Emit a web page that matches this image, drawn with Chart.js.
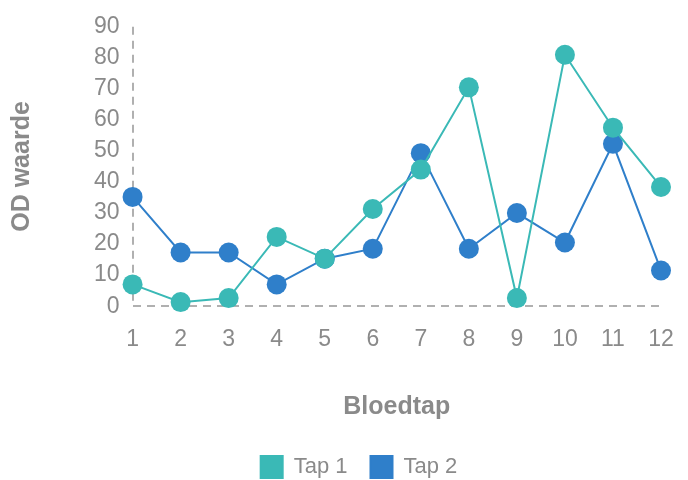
<!DOCTYPE html>
<html>
<head>
<meta charset="utf-8">
<script src="https://cdn.jsdelivr.net/npm/chart.js@4"></script>
<style>
  html, body { margin: 0; padding: 0; background: #fff; }
  #wrap { width: 688px; height: 480px; }
</style>
</head>
<body>
<div id="wrap"><canvas id="chart" width="688" height="480"></canvas></div>
<script>
// data
const labels = ["1", "2", "3", "4", "5", "6", "7", "8", "9", "10", "11", "12"];
const tap1 = [7, 1.3, 2.6, 22.3, 15.3, 31.3, 44, 70.5, 2.6, 81, 57.5, 38.4];
const tap2 = [35.2, 17.3, 17.3, 7, 15.3, 18.5, 49.3, 18.5, 30, 20.5, 52.3, 11.5];

const teal = "#3ab9b6";
const blue = "#2f7fca";
const grey = "#8a8a8a";
const axisGrey = "#b0b0b0";
const fam = "'Liberation Sans', Arial, sans-serif";

// nudge the legend right/down, like the reference
const legendShift = {
  id: "legendShift",
  afterLayout(chart) {
    const lg = chart.legend;
    if (lg) {
      lg.left += 25; lg.right += 25;
      lg.top += 8; lg.bottom += 8;
    }
  }
};

new Chart(document.getElementById("chart"), {
  type: "line",
  data: {
    labels: labels,
    datasets: [
      {
        label: "Tap 1",
        data: tap1,
        borderColor: teal,
        backgroundColor: teal,
        pointBackgroundColor: teal,
        borderWidth: 2,
        pointRadius: 10,
        pointHoverRadius: 10,
        pointBorderWidth: 0,
        tension: 0,
        clip: false
      },
      {
        label: "Tap 2",
        data: tap2,
        borderColor: blue,
        backgroundColor: blue,
        pointBackgroundColor: blue,
        borderWidth: 2,
        pointRadius: 10,
        pointHoverRadius: 10,
        pointBorderWidth: 0,
        tension: 0,
        clip: false
      }
    ]
  },
  options: {
    responsive: false,
    animation: false,
    layout: { padding: { top: 19, right: 27, left: 7, bottom: 0 } },
    plugins: {
      tooltip: { enabled: false },
      legend: {
        position: "bottom",
        labels: {
          color: grey,
          font: { family: fam, size: 22 },
          boxWidth: 22,
          boxHeight: 22,
          padding: 23
        }
      }
    },
    scales: {
      x: {
        offset: false,
        // only the first vertical grid line is kept: it acts as the dashed y axis
        grid: {
          display: true,
          drawTicks: false,
          lineWidth: 2,
          color: ctx => ctx.index === 0 ? axisGrey : "rgba(0,0,0,0)"
        },
        border: { display: false, dash: [8, 6] },
        // tall line height pushes the labels a bit lower under the axis
        ticks: { color: grey, font: { family: fam, size: 23, lineHeight: 2.08 }, padding: 10, maxRotation: 0, autoSkip: false },
        title: {
          display: true,
          text: "Bloedtap",
          color: grey,
          font: { family: fam, size: 25, weight: "bold" },
          padding: { top: 18, bottom: 3 }
        }
      },
      y: {
        min: 0,
        max: 90,
        // only the zero line is kept: it acts as the dashed x axis
        grid: {
          display: true,
          drawTicks: false,
          lineWidth: 2,
          color: ctx => ctx.tick && ctx.tick.value === 0 ? axisGrey : "rgba(0,0,0,0)"
        },
        border: { display: false, dash: [8, 6] },
        ticks: { stepSize: 10, color: grey, font: { family: fam, size: 23 }, padding: 13, autoSkip: false },
        title: {
          display: true,
          text: "OD waarde",
          color: grey,
          font: { family: fam, size: 25, weight: "bold" },
          padding: { top: 0, bottom: 44 }
        }
      }
    }
  },
  plugins: [legendShift]
});
</script>
</body>
</html>
